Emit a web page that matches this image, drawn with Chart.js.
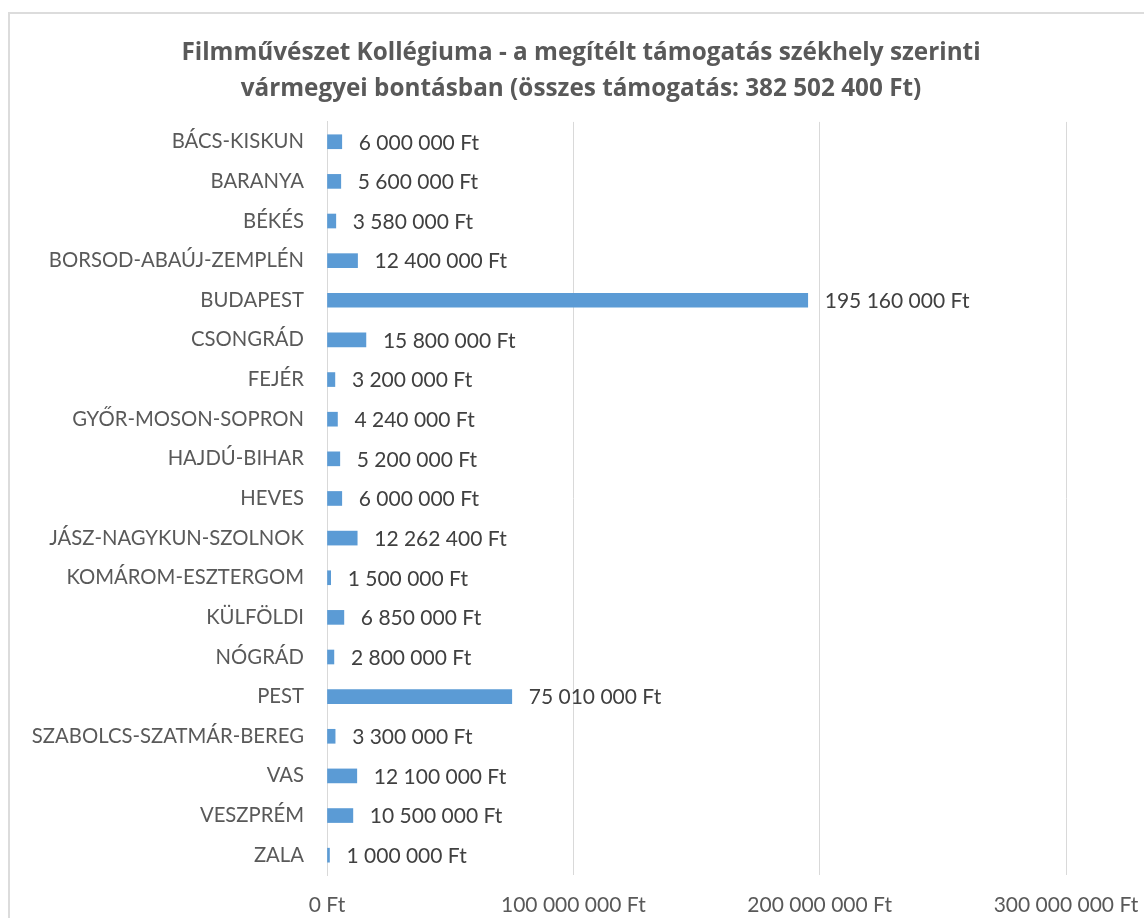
<!DOCTYPE html>
<html>
<head>
<meta charset="utf-8">
<script src="https://cdn.jsdelivr.net/npm/chart.js@4"></script>
<style>
  html, body { margin: 0; padding: 0; width: 1144px; height: 918px; overflow: hidden; background: #fff; }
  #frame { position: absolute; left: 8px; top: 12px; width: 2000px; height: 2000px; border: 2px solid #DCDCDC; box-sizing: border-box; }
  #wrap { position: absolute; left: 0; top: 0; width: 1144px; height: 918px; }
</style>
</head>
<body>
<div id="frame"></div>
<div id="wrap"><canvas id="c" width="1144" height="918"></canvas></div>
<script>
const categories = ["BÁCS-KISKUN", "BARANYA", "BÉKÉS", "BORSOD-ABAÚJ-ZEMPLÉN", "BUDAPEST", "CSONGRÁD", "FEJÉR", "GYŐR-MOSON-SOPRON", "HAJDÚ-BIHAR", "HEVES", "JÁSZ-NAGYKUN-SZOLNOK", "KOMÁROM-ESZTERGOM", "KÜLFÖLDI", "NÓGRÁD", "PEST", "SZABOLCS-SZATMÁR-BEREG", "VAS", "VESZPRÉM", "ZALA"];
const values = [6000000, 5600000, 3580000, 12400000, 195160000, 15800000, 3200000, 4240000, 5200000, 6000000, 12262400, 1500000, 6850000, 2800000, 75010000, 3300000, 12100000, 10500000, 1000000];
const titleLines = ["Filmművészet Kollégiuma - a megítélt támogatás székhely szerinti", "vármegyei bontásban (összes támogatás: 382 502 400 Ft)"];
const xTicks = [0, 100000000, 200000000, 300000000];

function fmt(v) {
  return String(Math.round(v)).replace(/\B(?=(\d{3})+(?!\d))/g, " ") + " Ft";
}

const FONT = "Lato, 'Open Sans', sans-serif";

const dataLabels = {
  id: "dataLabels",
  afterDatasetsDraw(chart) {
    const ctx = chart.ctx;
    const meta = chart.getDatasetMeta(0);
    ctx.save();
    ctx.font = "21px " + FONT;
    ctx.fillStyle = "#404040";
    ctx.textAlign = "left";
    ctx.textBaseline = "middle";
    meta.data.forEach((bar, i) => {
      ctx.fillText(fmt(chart.data.datasets[0].data[i]), bar.x + 17, bar.y + 1);
    });
    ctx.restore();
  }
};

new Chart(document.getElementById("c"), {
  type: "bar",
  data: {
    labels: categories,
    datasets: [{
      data: values,
      backgroundColor: "#5B9BD5",
      borderWidth: 0,
      barThickness: 14,
      yAxisID: "y"
    }]
  },
  options: {
    indexAxis: "y",
    responsive: false,
    animation: false,
    devicePixelRatio: 1,
    layout: { padding: { left: 20, right: 2, top: 0, bottom: 0 } },
    plugins: {
      legend: { display: false },
      tooltip: { enabled: false },
      title: {
        display: true,
        text: titleLines,
        color: "#595959",
        font: { family: "'Open Sans', Lato, sans-serif", size: 24.3, weight: "bold", lineHeight: 1.48 },
        padding: { top: 35, bottom: 15 }
      }
    },
    scales: {
      x: {
        min: 0,
        max: 300000000,
        afterBuildTicks(scale) { scale.ticks = xTicks.map(v => ({ value: v })); },
        afterFit(scale) { scale.height = 43; },
        grid: { color: "#D9D9D9", lineWidth: 1, drawTicks: false },
        border: { display: false },
        ticks: {
          color: "#595959",
          font: { family: FONT, size: 21, lineHeight: 2.857 },
          padding: 0,
          maxRotation: 0,
          callback: (v) => fmt(v)
        }
      },
      y: {
        position: "left",
        afterFit(scale) { scale.width = 307; },
        grid: { display: false, drawTicks: false },
        border: { display: true, color: "#D9D9D9", width: 1 },
        ticks: {
          color: "#595959",
          font: { family: FONT, size: 20.3 },
          padding: 23,
          autoSkip: false
        }
      },
      yRight: {
        type: "linear",
        position: "right",
        display: true,
        afterFit(scale) { scale.width = 76; },
        grid: { display: false, drawTicks: false },
        border: { display: false },
        ticks: { display: false }
      }
    }
  },
  plugins: [dataLabels]
});
</script>
</body>
</html>
